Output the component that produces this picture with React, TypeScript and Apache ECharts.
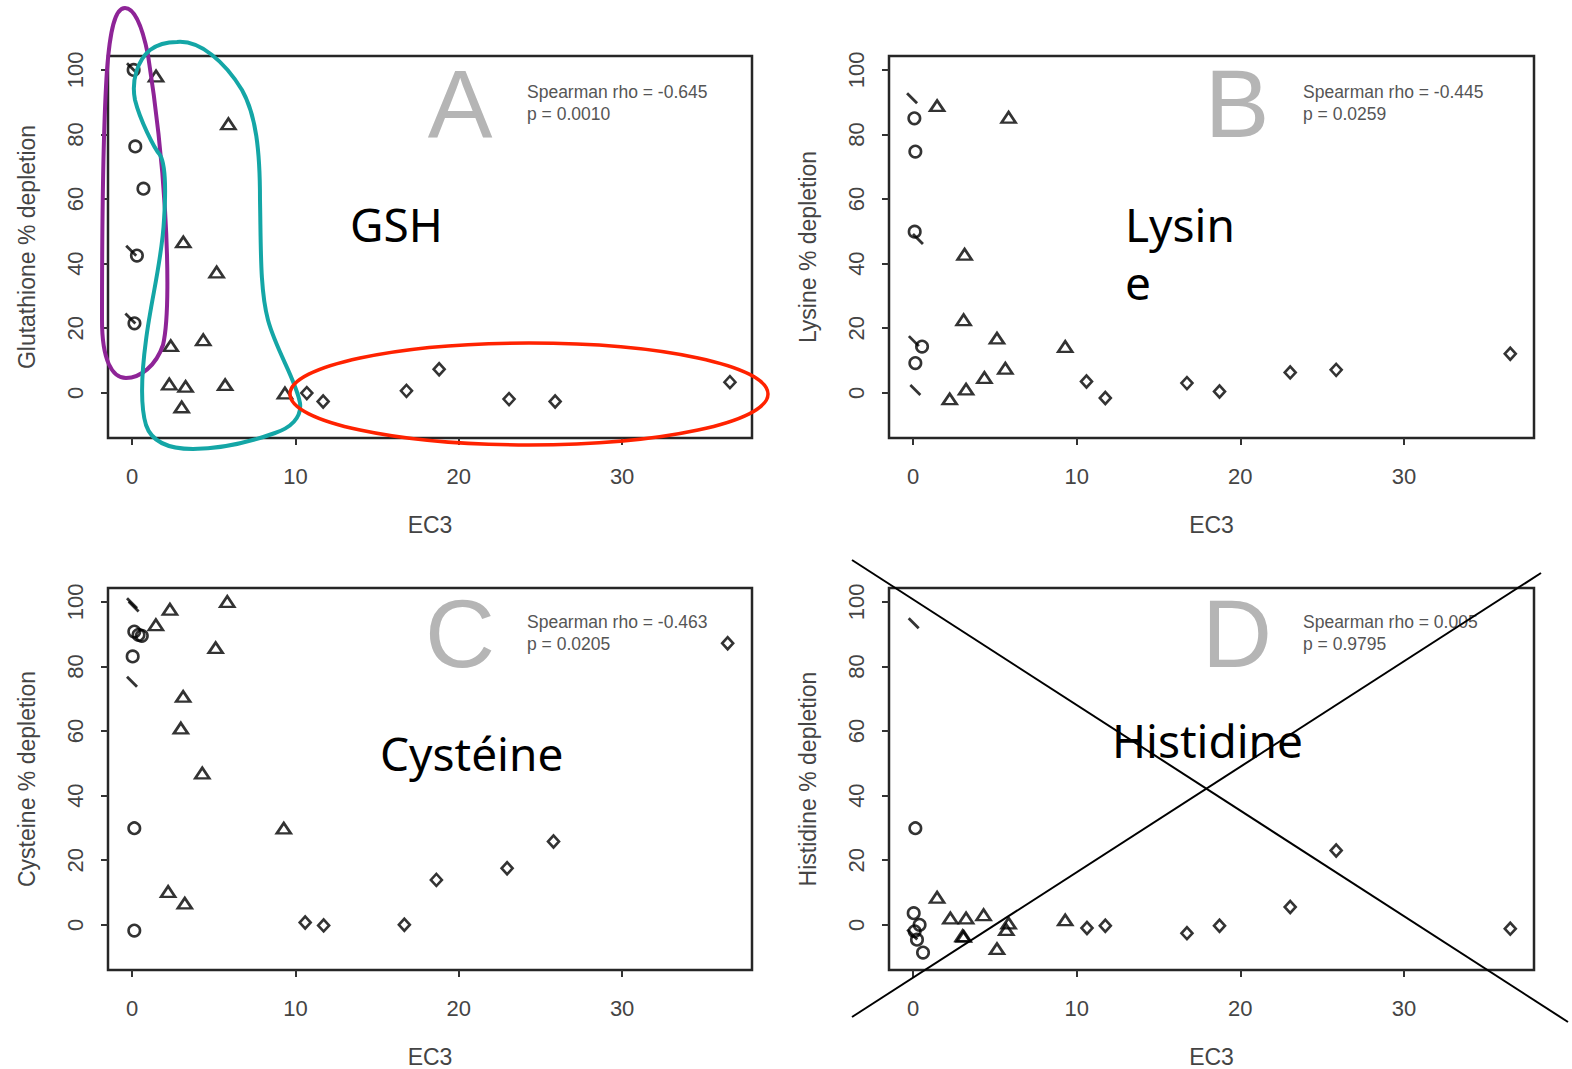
import React, { useEffect, useRef } from "react";
import * as echarts from "echarts";

// ---------- data ----------
const xTicks = [0, 10, 20, 30];
const yTicks = [0, 20, 40, 60, 80, 100];
const xName = "EC3";
const panelLetters = ["A", "B", "C", "D"];
const yNames = [
  "Glutathione % depletion",
  "Lysine % depletion",
  "Cysteine % depletion",
  "Histidine % depletion",
];
const rhoTexts = [
  "Spearman rho = -0.645",
  "Spearman rho = -0.445",
  "Spearman rho = -0.463",
  "Spearman rho = 0.005",
];
const pTexts = ["p = 0.0010", "p = 0.0259", "p = 0.0205", "p = 0.9795"];
const notes = ["GSH", "Lysin\ne", "Cystéine", "Histidine"];

// Panel A (Glutathione)
const aCircles = [[0.1, 100], [0.2, 76.3], [0.7, 63.2], [0.3, 42.5], [0.15, 21.5]];
const aSlashes = [[0.0, 100.5], [-0.05, 44], [-0.1, 23]];
const aTriangles = [[1.47, 98.1], [5.9, 83.3], [3.14, 46.7], [5.18, 37.4], [4.36, 16.4], [2.37, 14.6], [2.28, 2.7], [3.28, 1.95], [5.7, 2.5], [3.04, -4.4], [9.36, -0.1]];
const aDiamonds = [[10.7, -0.1], [11.7, -2.7], [16.8, 0.6], [18.8, 7.3], [23.08, -1.95], [25.9, -2.7], [36.6, 3.3]];

// Panel B (Lysine)
const bCircles = [[0.08, 85], [0.14, 74.7], [0.1, 49.9], [0.55, 14.3], [0.14, 9.2]];
const bSlashes = [[-0.06, 91.2], [0.3, 47.6], [0.05, 16], [0.14, 0.9]];
const bTriangles = [[1.47, 88.9], [5.84, 85.3], [3.15, 42.9], [3.09, 22.6], [5.13, 16.9], [9.3, 14.3], [5.64, 7.6], [4.36, 4.7], [3.24, 1.1], [2.24, -1.9]];
const bDiamonds = [[10.6, 3.5], [11.75, -1.6], [16.74, 3.0], [18.73, 0.4], [23.05, 6.3], [25.86, 7.1], [36.5, 12.1]];

// Panel C (Cysteine)
const cCircles = [[0.14, 90.8], [0.4, 89.8], [0.6, 89.5], [0.04, 83.1], [0.14, 29.9], [0.14, -1.8]];
const cSlashes = [[0.0, 99.6], [0.1, 98.6], [0.0, 75.3]];
const cTriangles = [[2.32, 97.7], [1.46, 92.9], [5.83, 100.1], [5.12, 85.8], [3.13, 70.7], [2.99, 60.9], [4.3, 47], [9.29, 29.9], [2.21, 10.3], [3.23, 6.7]];
const cDiamonds = [[10.6, 0.7], [11.73, -0.2], [16.67, 0], [18.63, 13.9], [22.96, 17.5], [25.8, 25.8], [36.46, 87.2]];

// Panel D (Histidine)
const dCircles = [[0.14, 29.9], [0.04, 3.6], [0.4, 0], [0.24, -4.6], [0.61, -8.6], [0.1, -2]];
const dSlashes = [[0.04, 93.4], [-0.05, -3]];
const dTriangles = [[1.47, 8.5], [2.28, 2.1], [3.24, 2.1], [4.31, 3.1], [3.03, -3.4], [3.1, -3.6], [5.84, 0.5], [5.7, -1.5], [5.13, -7.4], [9.3, 1.5]];
const dDiamonds = [[10.63, -1.0], [11.75, -0.3], [16.74, -2.6], [18.73, -0.3], [23.05, 5.5], [25.86, 23], [36.5, -1.2]];

const circlesByPanel = [aCircles, bCircles, cCircles, dCircles];
const slashesByPanel = [aSlashes, bSlashes, cSlashes, dSlashes];
const trianglesByPanel = [aTriangles, bTriangles, cTriangles, dTriangles];
const diamondsByPanel = [aDiamonds, bDiamonds, cDiamonds, dDiamonds];

// ---------- hand-drawn annotation shapes ----------
const purpleD =
  "M125,8 C115,8 110,30 107,70 C103,130 102,250 102,320 C102,360 112,378 126,378 C140,378 156,366 163,345 C169,320 168,260 165,210 C162,160 155,100 148,55 C142,25 134,8 125,8 Z";
const tealD =
  "M177,42 C200,40 225,62 242,90 C256,115 260,150 260,200 C261,250 260,290 268,320 C276,350 296,380 300,403 C302,418 290,428 275,433 C250,442 220,449 193,449 C170,449 152,443 146,425 C140,405 142,370 146,340 C151,300 162,260 164,220 C166,190 166,165 160,155 C154,148 140,120 135,100 C131,80 138,60 150,50 C158,44 167,42 177,42 Z";

let registered = false;
function registerShapes() {
  if (registered) return;
  registered = true;
  echarts.graphic.registerShape("purpleLoop", echarts.graphic.extendPath(purpleD, {}));
  echarts.graphic.registerShape("tealLoop", echarts.graphic.extendPath(tealD, {}));
}

const FONT = "'Liberation Sans', Arial, Helvetica, sans-serif";
const HAND = "'Comic Sans MS', 'Noto Sans', 'DejaVu Sans', sans-serif";

const grids = [
  { left: 108, top: 56, width: 644, height: 382 },
  { left: 889, top: 56, width: 645, height: 382 },
  { left: 108, top: 588, width: 644, height: 382 },
  { left: 889, top: 588, width: 645, height: 382 },
];

function buildOption() {
  const grid = grids.map((g) => ({
    ...g,
    show: true,
    borderColor: "#262626",
    borderWidth: 2.5,
    backgroundColor: "rgba(0,0,0,0)",
  }));
  const xAxis = grids.map((_, i) => ({
    gridIndex: i,
    type: "value",
    position: "bottom",
    min: -1.47,
    max: 37.95,
    axisLine: { show: false, onZero: false },
    splitLine: { show: false },
    axisTick: { show: true, customValues: xTicks, length: 7, lineStyle: { color: "#333", width: 2 } },
    axisLabel: { customValues: xTicks, margin: 27, fontSize: 22, color: "#444", fontFamily: FONT },
    name: xName,
    nameLocation: "middle",
    nameGap: 75,
    nameTextStyle: { fontSize: 23, color: "#444", fontFamily: FONT },
  }));
  const yAxis = grids.map((_, i) => ({
    gridIndex: i,
    type: "value",
    position: "left",
    min: -14,
    max: 104.3,
    axisLine: { show: false, onZero: false },
    splitLine: { show: false },
    axisTick: { show: true, customValues: yTicks, length: 7, lineStyle: { color: "#333", width: 2 } },
    axisLabel: { customValues: yTicks, rotate: 90, margin: 22, fontSize: 22, color: "#444", fontFamily: FONT },
    name: yNames[i],
    nameLocation: "middle",
    nameGap: 70,
    nameRotate: 90,
    nameTextStyle: { fontSize: 23, color: "#444", fontFamily: FONT },
  }));

  const stroke = { color: "rgba(0,0,0,0)", borderColor: "#000", borderWidth: 2.6 };
  const series: any[] = [];
  for (let i = 0; i < 4; i++) {
    series.push({
      type: "scatter", xAxisIndex: i, yAxisIndex: i, data: circlesByPanel[i],
      symbol: "circle", symbolSize: 11.5, itemStyle: stroke, silent: true,
    });
    series.push({
      type: "scatter", xAxisIndex: i, yAxisIndex: i, data: slashesByPanel[i],
      symbol: "path://M0,0L10,10", symbolSize: [10, 10], itemStyle: { color: "none", borderColor: "#000", borderWidth: 2.8 }, silent: true,
    });
    series.push({
      type: "scatter", xAxisIndex: i, yAxisIndex: i, data: trianglesByPanel[i],
      symbol: "triangle", symbolSize: [14, 10.5], itemStyle: stroke, silent: true,
    });
    series.push({
      type: "scatter", xAxisIndex: i, yAxisIndex: i, data: diamondsByPanel[i],
      symbol: "diamond", symbolSize: [11, 12], itemStyle: stroke, silent: true,
    });
  }

  const letterPos = [[460, 103], [1237, 103], [460, 633], [1237, 633]];
  const statPos = [[527, 81], [1303, 81], [527, 611], [1303, 611]];
  const graphic: any[] = [];
  for (let i = 0; i < 4; i++) {
    graphic.push({
      type: "text", x: letterPos[i][0], y: letterPos[i][1], z: 1,
      style: { text: panelLetters[i], fontSize: 97, fontFamily: FONT, fill: "#b5b5b5", align: "center", verticalAlign: "middle" },
    });
    graphic.push({
      type: "text", x: statPos[i][0], y: statPos[i][1], z: 1,
      style: { text: rhoTexts[i] + "\n" + pTexts[i], fontSize: 17.5, lineHeight: 22, fontFamily: FONT, fill: "#555", align: "left", verticalAlign: "top" },
    });
  }
  const notePos = [[350, 224], [1125, 224], [380, 753], [1112, 740]];
  for (let i = 0; i < 4; i++) {
    if (i === 1) {
      const parts = notes[i].split("\n");
      graphic.push({ type: "text", x: notePos[i][0], y: notePos[i][1], z: 50,
        style: { text: parts[0], fontSize: 46, fontFamily: HAND, fill: "#000", align: "left", verticalAlign: "middle" } });
      graphic.push({ type: "text", x: notePos[i][0], y: 282, z: 50,
        style: { text: parts[1], fontSize: 46, fontFamily: HAND, fill: "#000", align: "left", verticalAlign: "middle" } });
    } else {
      graphic.push({ type: "text", x: notePos[i][0], y: notePos[i][1], z: 50,
        style: { text: notes[i], fontSize: 46, fontFamily: HAND, fill: "#000", align: "left", verticalAlign: "middle" } });
    }
  }
  graphic.push({ type: "purpleLoop", x: 0, y: 0, scaleX: 1, scaleY: 1, z: 60,
    style: { fill: "none", stroke: "#8e2497", lineWidth: 4 } });
  graphic.push({ type: "tealLoop", x: 0, y: 0, scaleX: 1, scaleY: 1, z: 61,
    style: { fill: "none", stroke: "#14a6a6", lineWidth: 4 } });
  graphic.push({ type: "ellipse", z: 62, shape: { cx: 529, cy: 394, rx: 239, ry: 51 },
    style: { fill: "none", stroke: "#ff2200", lineWidth: 3.5 } });
  graphic.push({ type: "line", z: 63, shape: { x1: 852, y1: 560, x2: 1568, y2: 1022 },
    style: { stroke: "#000", lineWidth: 2 } });
  graphic.push({ type: "line", z: 63, shape: { x1: 852, y1: 1017, x2: 1541, y2: 573 },
    style: { stroke: "#000", lineWidth: 2 } });

  return {
    animation: false,
    backgroundColor: "#ffffff",
    grid,
    xAxis,
    yAxis,
    series,
    graphic,
  };
}

export default function App() {
  const ref = useRef<HTMLDivElement>(null);
  useEffect(() => {
    document.body.style.margin = "0";
    registerShapes();
    if (!ref.current) return;
    const chart = echarts.init(ref.current, undefined, { renderer: "svg" });
    chart.setOption(buildOption() as any);
    return () => {
      chart.dispose();
    };
  }, []);
  return <div ref={ref} style={{ width: 1572, height: 1069 }} />;
}
